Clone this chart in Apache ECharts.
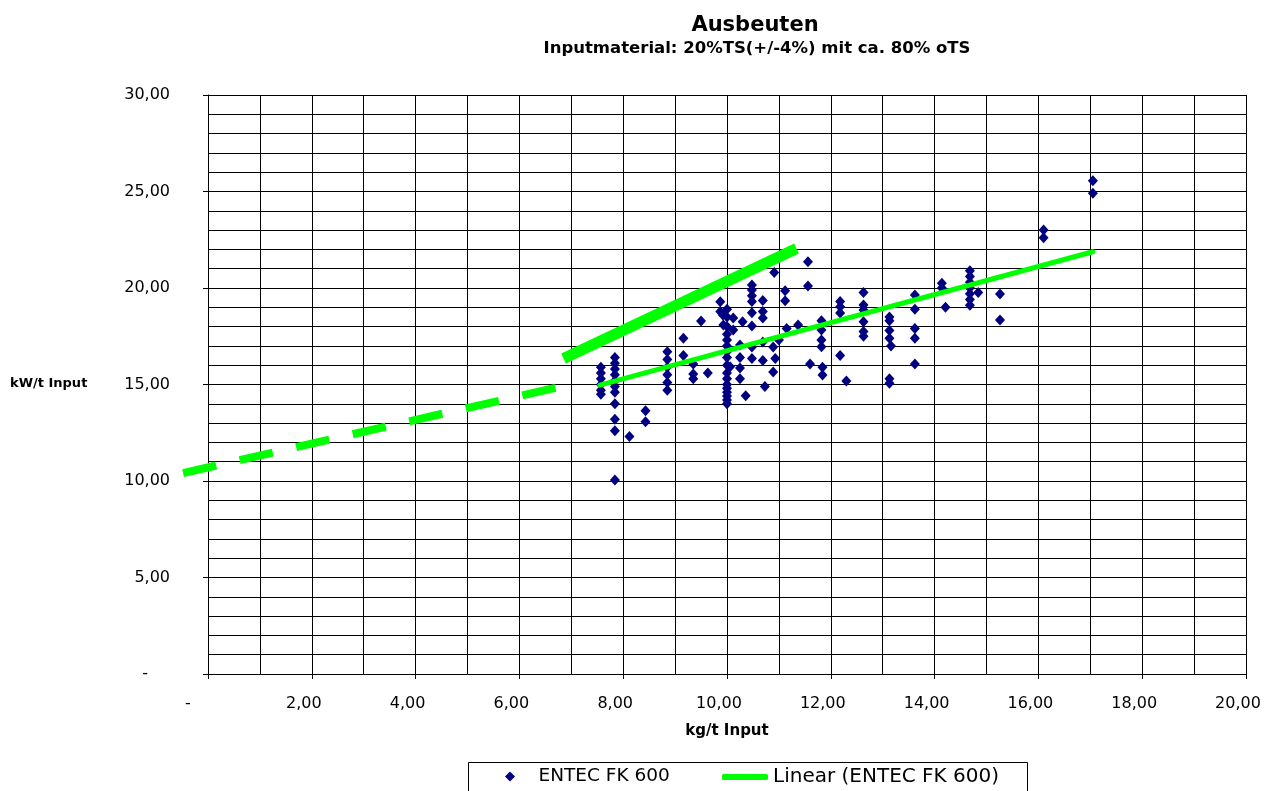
<!DOCTYPE html>
<html><head><meta charset="utf-8">
<script src="https://cdn.jsdelivr.net/npm/echarts@6/dist/echarts.min.js"></script>
<style>html,body{margin:0;padding:0;background:#fff}#c{width:1271px;height:791px}</style>
</head><body><div id="c"></div>
<script>
const titleText = 'Ausbeuten';
const subtitleText = 'Inputmaterial: 20%TS(+/-4%) mit ca. 80% oTS';
const xAxisName = 'kg/t Input';
const yAxisName = 'kW/t Input';
const seriesName = 'ENTEC FK 600';
const trendName = 'Linear (ENTEC FK 600)';
const xTickLabels = ['-', '2,00', '4,00', '6,00', '8,00', '10,00', '12,00', '14,00', '16,00', '18,00', '20,00'];
const yTickLabels = ['-', '5,00', '10,00', '15,00', '20,00', '25,00', '30,00'];

const kgInput = [
  7.57,7.57,7.57,7.57,7.57,7.57,
  7.84,7.84,7.84,7.84,7.84,7.84,7.84,7.84,7.84,7.84,7.84,
  8.12, 8.43,8.43,
  8.85,8.85,8.85,8.85,8.85,8.85,
  9.16,9.16, 9.35,9.35,9.35, 9.5, 9.63,
  9.87,9.87,9.92,9.93,
  10.0,10.0,10.0,10.0,10.0,10.0,10.0,10.0,10.0,10.0,10.0,10.0,10.0,10.0,10.0,10.0,10.0,
  10.06, 10.12,10.12,
  10.25,10.25,10.25,10.25, 10.3, 10.36,
  10.48,10.48,10.48,10.48,10.48,10.48,10.48,10.48,
  10.69,10.69,10.69,10.69,10.69, 10.73,
  10.89,10.93,10.89, 10.91, 11.0,
  11.12,11.12,11.15, 11.37, 11.56,11.56, 11.6,
  11.82,11.82,11.82,11.82,11.84,11.84,
  12.18,12.18,12.18,12.18, 12.3,
  12.63,12.63,12.63,12.63,12.63,12.63,
  13.13,13.13,13.13,13.13,13.16,13.13,13.13,
  13.62,13.62,13.62,13.62,13.62,
  14.14,14.14,14.21,
  14.68,14.68,14.68,14.68,14.68,14.68,14.68,
  14.84, 15.26,15.26,
  16.1,16.1, 17.05,17.05
];
const kwInput = [
  15.9,15.6,15.3,15.0,14.7,14.5,
  16.4,16.1,15.8,15.5,15.2,14.9,14.6,14.0,13.2,12.6,10.05,
  12.3, 13.64,13.07,
  16.7,16.3,15.9,15.5,15.1,14.7,
  17.4,16.5, 16.06,15.55,15.3, 18.29, 15.6,
  19.29,18.78,18.6,18.08,
  18.9,18.5,18.0,17.6,17.3,17.0,16.7,16.4,16.0,15.6,15.3,15.0,14.8,14.6,14.4,14.2,14.0,
  15.92, 18.44,17.82,
  17.05,16.4,15.85,15.3, 18.25, 14.42,
  20.16,19.9,19.6,19.3,18.72,18.03,16.94,16.35,
  19.35,18.78,18.45,17.2,16.25, 14.9,
  16.94,16.35,15.65, 20.8, 17.3,
  19.86,19.34,17.9, 18.08, 21.36,20.1, 16.06,
  18.3,17.82,17.3,16.95,15.9,15.49,
  19.3,19.03,18.7,16.5, 15.18,
  19.77,19.12,18.86,18.25,17.74,17.5,
  18.5,18.3,17.8,17.4,16.99,15.3,15.06,
  19.64,18.9,17.9,17.4,16.06,
  20.24,20.0,19.0,
  20.9,20.6,20.3,20.0,19.7,19.4,19.1,
  19.77, 19.69,18.34,
  23.0,22.6, 25.56,24.91
];

const trendX = [7.55, 17.05];
const trendY = [14.97, 21.88];
const steepX = [6.85, 11.34];
const steepY = [16.35, 22.05];
const dashX = [-0.48, 6.80];
const dashY = [10.41, 14.89];

const zip = (a, b) => a.map((v, i) => [v, b[i]]);
const FONT = 'DejaVu Sans';

const baseGraphics = () => [
  {type: 'rect', left: 466, top: 760, shape: {width: 559, height: 40},
   style: {fill: 'none', stroke: '#000', lineWidth: 1}, silent: true},
  {type: 'text', left: 10, top: 377,
   style: {text: yAxisName, fontFamily: FONT, fontWeight: 'bold', fontSize: 13, fill: '#000'}}
];

const chart = echarts.init(document.getElementById('c'), null, {renderer: 'canvas'});
chart.setOption({
  animation: false,
  backgroundColor: '#fff',
  title: [
    {text: titleText, left: 750, top: 10, textAlign: 'center',
     textStyle: {fontFamily: FONT, fontWeight: 'bold', fontSize: 21, color: '#000'}},
    {text: subtitleText, left: 752, top: 35, textAlign: 'center',
     textStyle: {fontFamily: FONT, fontWeight: 'bold', fontSize: 16.5, color: '#000'}}
  ],
  grid: {left: 208, right: 25, top: 95, bottom: 117, containLabel: false},
  xAxis: {
    type: 'value', min: 0, max: 20, interval: 2,
    name: xAxisName, nameLocation: 'middle', nameGap: 50,
    nameTextStyle: {fontFamily: FONT, fontWeight: 'bold', fontSize: 15, color: '#000'},
    axisLine: {show: true, onZero: false, lineStyle: {color: '#000', width: 1}},
    axisTick: {show: true, length: 5, lineStyle: {color: '#000'}},
    minorTick: {show: false, splitNumber: 2},
    splitLine: {show: true, lineStyle: {color: '#000', width: 1}},
    minorSplitLine: {show: true, lineStyle: {color: '#000', width: 1}},
    axisLabel: {
      margin: 22,
      formatter: v => { const i = Math.round(v / 2); return i === 0 ? '{z|' + xTickLabels[0] + '}' : '{n|' + xTickLabels[i] + '}'; },
      rich: {
        n: {fontFamily: FONT, fontSize: 16, color: '#000', padding: [0, 16, 0, 0]},
        z: {fontFamily: FONT, fontSize: 16, color: '#000', padding: [0, 40, 0, 0]}
      }
    }
  },
  yAxis: {
    type: 'value', min: 0, max: 30, interval: 5,
    axisLine: {show: true, onZero: false, lineStyle: {color: '#000', width: 1}},
    axisTick: {show: true, length: 5, lineStyle: {color: '#000'}},
    minorTick: {show: false, splitNumber: 5},
    splitLine: {show: true, lineStyle: {color: '#000', width: 1}},
    minorSplitLine: {show: true, lineStyle: {color: '#000', width: 1}},
    axisLabel: {
      margin: 38,
      formatter: v => { const i = Math.round(v / 5); return i === 0 ? '{z|' + yTickLabels[0] + '}' : '{n|' + yTickLabels[i] + '}'; },
      rich: {
        n: {fontFamily: FONT, fontSize: 16, color: '#000'},
        z: {fontFamily: FONT, fontSize: 16, color: '#000', padding: [0, 22, 0, 0]}
      }
    }
  },
  legend: [
    {data: [{name: seriesName, icon: 'diamond'}], left: 505, top: 767, padding: 0,
     itemWidth: 10, itemHeight: 10,
     formatter: n => '\u2002\u2002' + n,
     textStyle: {fontFamily: FONT, fontSize: 18.5, color: '#000'}},
    {data: [{name: trendName, icon: 'roundRect'}], left: 722, top: 767, padding: 0,
     itemWidth: 46, itemHeight: 6,
     textStyle: {fontFamily: FONT, fontSize: 20, color: '#000'}}
  ],
  graphic: baseGraphics(),
  series: [
    {name: seriesName, type: 'scatter', data: zip(kgInput, kwInput),
     symbol: 'diamond', symbolSize: [10, 11], itemStyle: {color: '#000080', opacity: 1}, z: 2},
    {name: trendName, type: 'line', data: zip(trendX, trendY), symbol: 'none',
     lineStyle: {color: '#00ff00', width: 5, cap: 'round'}, itemStyle: {color: '#00ff00'}, z: 3},
    {name: 'steep', type: 'line', data: zip(steepX, steepY), symbol: 'none',
     lineStyle: {color: '#00ff00', width: 11, cap: 'butt'}, z: 3}
  ]
});

// Dashed extension reaches left of the axis minimum, so it is placed through the chart's own scale.
const dashPts = zip(dashX, dashY).map(p => chart.convertToPixel({gridIndex: 0}, p));
chart.setOption({
  graphic: baseGraphics().concat([
    {type: 'polyline', shape: {points: dashPts}, z: 10,
     style: {stroke: '#00ff00', lineWidth: 8, lineDash: [34, 24], lineCap: 'butt', fill: null}, silent: true}
  ])
});
</script></body></html>
